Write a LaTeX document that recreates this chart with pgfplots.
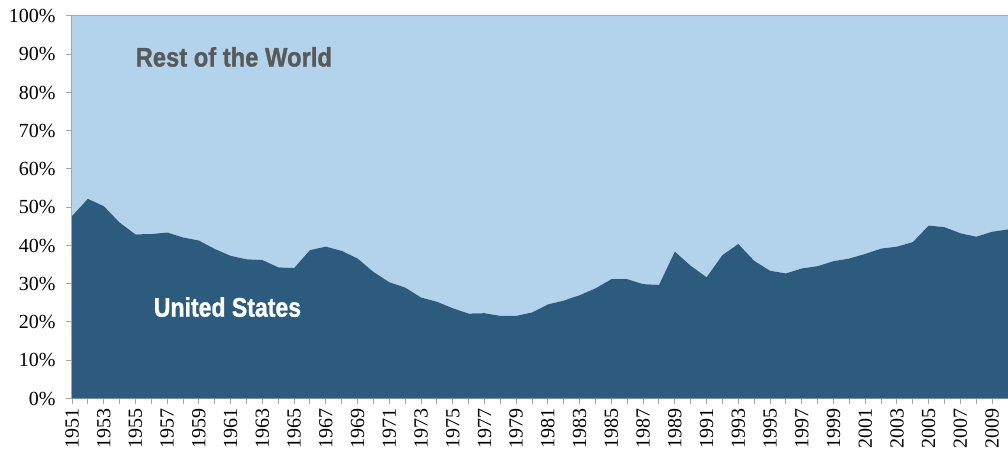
\documentclass[border=0pt]{standalone}
\usepackage{pgfplots}
\pgfplotsset{compat=1.18}
\usepackage{pgfplotstable}
\usepackage{graphicx}
\usepackage{fontspec}
\setmainfont{Liberation Serif}
\setsansfont{Liberation Sans}
\newfontfamily\heavyfont{Liberation Sans}[BoldFeatures={FakeBold=1.2}]

\definecolor{usblue}{HTML}{2D5B7E}
\definecolor{rowblue}{HTML}{B3D3EC}
\definecolor{labelgray}{HTML}{595959}
\definecolor{axisgray}{HTML}{A6A6A6}

% share of the total, in percent
\pgfplotstableread{
year us row
1951 47.7 52.3
1952 52.2 47.8
1953 50.3 49.7
1954 46.0 54.0
1955 42.9 57.1
1956 43.0 57.0
1957 43.4 56.6
1958 42.1 57.9
1959 41.3 58.7
1960 39.1 60.9
1961 37.3 62.7
1962 36.4 63.6
1963 36.2 63.8
1964 34.3 65.7
1965 34.1 65.9
1966 38.8 61.2
1967 39.7 60.3
1968 38.6 61.4
1969 36.6 63.4
1970 33.1 66.9
1971 30.4 69.6
1972 29.0 71.0
1973 26.4 73.6
1974 25.3 74.7
1975 23.6 76.4
1976 22.2 77.8
1977 22.3 77.7
1978 21.6 78.4
1979 21.6 78.4
1980 22.5 77.5
1981 24.6 75.4
1982 25.6 74.4
1983 27.0 73.0
1984 28.8 71.2
1985 31.2 68.8
1986 31.2 68.8
1987 29.9 70.1
1988 29.7 70.3
1989 38.4 61.6
1990 34.7 65.3
1991 31.7 68.3
1992 37.5 62.5
1993 40.4 59.6
1994 36.0 64.0
1995 33.4 66.6
1996 32.7 67.3
1997 34.0 66.0
1998 34.6 65.4
1999 35.9 64.1
2000 36.6 63.4
2001 37.8 62.2
2002 39.2 60.8
2003 39.7 60.3
2004 40.9 59.1
2005 45.2 54.8
2006 44.8 55.2
2007 43.2 56.8
2008 42.3 57.7
2009 43.6 56.4
2010 44.2 55.8
}\sharetable

\begin{document}
\begin{tikzpicture}
\useasboundingbox (-72pt,-55.5pt) rectangle (936pt,398.5pt);
\begin{axis}[%
  at={(0,0)}, anchor=south west,
  scale only axis,
  width=936pt, height=382.5pt,
  % x-axis
  xmin=1951, xmax=2010,
  xtick={1951,1953,...,2009},
  minor xtick={1952,1954,...,2010},
  xticklabel style={rotate=90, anchor=east, font=\fontsize{20}{20}\selectfont,
                    /pgf/number format/1000 sep={}},
  % y-axis
  ymin=0, ymax=100,
  ytick={0,10,...,100},
  yticklabel={\pgfmathprintnumber{\tick}\%},
  yticklabel style={font=\fontsize{20}{20}\selectfont, xshift=-7pt},
  /pgf/number format/assume math mode=true,
  axis lines*=left,
  axis line style={draw=axisgray, line width=1.2pt},
  tick style={draw=axisgray, line width=1pt},
  major tick length=6pt, minor tick length=6pt,
  tick align=outside,
  stack plots=y,
  ]

  \addplot [draw=none, fill=usblue, mark=none] table [x=year, y=us] {\sharetable} \closedcycle;
  \addplot [draw=none, fill=rowblue, mark=none] table [x=year, y=row] {\sharetable} \closedcycle;

  \draw [axisgray, line width=1.2pt] (rel axis cs:0,1) -- (rel axis cs:1,1);

  \coordinate (rowlabel) at (axis cs:1961.2,89.3);
  \coordinate (uslabel) at (axis cs:1960.8,23.9);
\end{axis}
\node [font=\heavyfont\bfseries\fontsize{24}{24}\selectfont, text=labelgray]
  at (rowlabel) {\scalebox{0.99}[1.12]{Rest of the World}};
\node [font=\heavyfont\bfseries\fontsize{24}{24}\selectfont, text=white]
  at (uslabel) {\scalebox{0.96}[1.12]{United States}};
\end{tikzpicture}
\end{document}
